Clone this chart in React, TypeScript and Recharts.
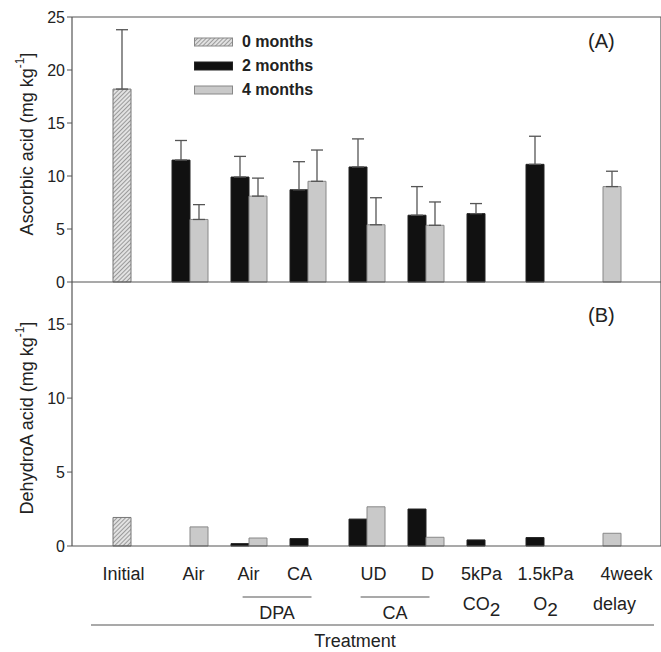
import React from 'react';
import { BarChart, Bar, Cell, XAxis, YAxis, ErrorBar, ReferenceLine } from 'recharts';

const categories = ['Initial', 'Air', 'Air', 'CA', 'UD', 'D', '5kPa', '1.5kPa', '4week'];
const secondLine = ['', '', '', '', '', '', 'CO2', 'O2', 'delay'];
const groupSpans = [
  { label: 'DPA', from: 2, to: 3 },
  { label: 'CA', from: 4, to: 5 },
];

// (A) ascorbic acid, mg/kg
const asc0 = [18.2, null, null, null, null, null, null, null, null];
const asc2 = [null, 11.5, 9.9, 8.7, 10.85, 6.3, 6.45, 11.1, null];
const asc4 = [null, 5.9, 8.1, 9.5, 5.4, 5.35, null, null, 9.0];
const ascErr0 = [5.6, null, null, null, null, null, null, null, null];
const ascErr2 = [null, 1.85, 1.95, 2.65, 2.65, 2.7, 0.95, 2.65, null];
const ascErr4 = [null, 1.4, 1.7, 2.95, 2.55, 2.2, null, null, 1.45];

// (B) dehydroascorbic acid, mg/kg
const dha0 = [1.93, null, null, null, null, null, null, null, null];
const dha2 = [null, null, 0.16, 0.5, 1.82, 2.5, 0.41, 0.57, null];
const dha4 = [null, 1.29, 0.54, null, 2.65, 0.59, null, null, 0.86];

const ascTicks = [0, 5, 10, 15, 20, 25];
const dhaTicks = [0, 5, 10, 15];

const FONT = 'Liberation Sans, Arial, Helvetica, sans-serif';
const AXIS = '#555';
const BLACK = '#111';
const GREY = '#c9c9c9';

const buildRows = (m0: any[], m2: any[], m4: any[], e0?: any[], e2?: any[], e4?: any[]) =>
  categories.map((name, i) => {
    const initial = m0[i] != null;
    const leftErr = initial ? e0?.[i] : e2?.[i];
    const rightErr = e4?.[i];
    return {
      name,
      left: initial ? m0[i] : m2[i],
      right: m4[i],
      initial,
      leftErr: leftErr != null ? [0, leftErr] : null,
      rightErr: rightErr != null ? [0, rightErr] : null,
    };
  });

const ascRows = buildRows(asc0, asc2, asc4, ascErr0, ascErr2, ascErr4);
const dhaRows = buildRows(dha0, dha2, dha4);

// layout
const PLOT_LEFT = 72;
const PLOT_RIGHT = 660;
const PAD = 29;
const BAND = (PLOT_RIGHT - PLOT_LEFT - 2 * PAD) / categories.length;
const labelShift = [-7, 4, 0, -8, 7, 2, -3, 2, 24];
const secondShift = [0, 0, 0, 0, 0, 0, -3, 2, 12];

function Hatch({ id }: { id: string }) {
  return (
    <defs>
      <pattern id={id} patternUnits="userSpaceOnUse" width="3" height="3" patternTransform="rotate(45)">
        <rect width="3" height="3" fill="#e2e2e2" />
        <line x1="0" y1="0" x2="0" y2="3" stroke="#6a6a6a" strokeWidth="1.2" />
      </pattern>
    </defs>
  );
}

function YTitle({ text, cy }: { text: string; cy: number }) {
  return (
    <text
      x={27}
      y={cy}
      transform={`rotate(-90, 27, ${cy})`}
      textAnchor="middle"
      dominantBaseline="central"
      fontFamily={FONT}
      fontSize={18}
      fill="#222"
    >
      {text} (mg kg
      <tspan dy={-7} fontSize={12}>-1</tspan>
      <tspan dy={7}>]</tspan>
    </text>
  );
}

function SubText({ x, y, label }: { x: number; y: number; label: string }) {
  const m = label.match(/^(.*?[A-Za-z])(\d)$/);
  if (!m) {
    return (
      <text x={x} y={y} textAnchor="middle" fontFamily={FONT} fontSize={18} fill="#222">
        {label}
      </text>
    );
  }
  return (
    <text x={x} y={y} textAnchor="middle" fontFamily={FONT} fontSize={18} fill="#222">
      {m[1]}
      <tspan dy={6} fontSize={19}>{m[2]}</tspan>
    </text>
  );
}

function TreatmentTick(props: any) {
  const { x, y, payload } = props;
  const i = payload.index;
  const group = groupSpans.find((g) => g.to === i);
  return (
    <g>
      <text x={x + labelShift[i]} y={y + 32} textAnchor="middle" fontFamily={FONT} fontSize={18} fill="#222">
        {categories[i]}
      </text>
      {secondLine[i] && <SubText x={x + secondShift[i]} y={y + 62} label={secondLine[i]} />}
      {group && (
        <g>
          <line
            x1={x - BAND * (group.to - group.from) - 6}
            x2={x + 4}
            y1={y + 49}
            y2={y + 49}
            stroke={AXIS}
            strokeWidth={1.2}
          />
          <text
            x={x - (BAND * (group.to - group.from)) / 2 - 1}
            y={y + 71}
            textAnchor="middle"
            fontFamily={FONT}
            fontSize={18}
            fill="#222"
          >
            {group.label}
          </text>
        </g>
      )}
    </g>
  );
}

function TreatmentLabel(props: any) {
  const vb = props.viewBox || { x: PLOT_LEFT, y: 264, width: PLOT_RIGHT - PLOT_LEFT };
  return (
    <g>
      <line x1={vb.x + 19} x2={vb.x + vb.width - 7} y1={vb.y + 79} y2={vb.y + 79} stroke={AXIS} strokeWidth={1.2} />
      <text
        x={vb.x + 283}
        y={vb.y + 101}
        textAnchor="middle"
        fontFamily={FONT}
        fontSize={18}
        fill="#222"
      >
        Treatment
      </text>
    </g>
  );
}

const blankTick = () => <g />;

function Panel({
  rows,
  max,
  ticks,
  height,
  margin,
  hatchId,
  title,
  titleCy,
  bottom,
}: {
  rows: any[];
  max: number;
  ticks: number[];
  height: number;
  margin: any;
  hatchId: string;
  title: string;
  titleCy: number;
  bottom?: boolean;
}) {
  return (
    <BarChart width={661} height={height} data={rows} margin={margin} barSize={18} barGap={0}>
      <Hatch id={hatchId} />
      {bottom ? (
        <XAxis
          dataKey="name"
          height={106}
          padding={{ left: PAD, right: PAD }}
          axisLine={{ stroke: AXIS, strokeWidth: 1.2 }}
          tickLine={false}
          tickSize={0}
          interval={0}
          tick={<TreatmentTick />}
          label={<TreatmentLabel />}
        />
      ) : (
        <XAxis dataKey="name" hide padding={{ left: PAD, right: PAD }} />
      )}
      <YAxis
        domain={[0, max]}
        ticks={ticks}
        interval={0}
        width={PLOT_LEFT}
        tickSize={5}
        axisLine={{ stroke: AXIS, strokeWidth: 1.2 }}
        tickLine={{ stroke: AXIS }}
        tick={{ fontSize: 16, fill: '#222', fontFamily: FONT }}
        label={<YTitle text={title} cy={titleCy} />}
      />
      <YAxis
        yAxisId="r"
        orientation="right"
        domain={[0, max]}
        ticks={ticks}
        interval={0}
        width={1}
        mirror
        tickSize={4}
        axisLine={{ stroke: AXIS, strokeWidth: 1.2 }}
        tickLine={{ stroke: AXIS }}
        tick={blankTick}
      />
      {!bottom && <ReferenceLine y={max} stroke={AXIS} strokeWidth={1.2} />}
      {!bottom && <ReferenceLine y={0} stroke={AXIS} strokeWidth={1.2} />}
      <Bar dataKey="left" stroke="#222" strokeWidth={1} isAnimationActive={false}>
        {rows.map((r, i) => (
          <Cell key={i} fill={r.initial ? `url(#${hatchId})` : BLACK} stroke={r.initial ? '#777' : '#222'} />
        ))}
        {!bottom && <ErrorBar dataKey="leftErr" direction="y" width={6} stroke="#555" strokeWidth={1.3} />}
      </Bar>
      <Bar dataKey="right" fill={GREY} stroke="#888" strokeWidth={1} isAnimationActive={false}>
        {!bottom && <ErrorBar dataKey="rightErr" direction="y" width={6} stroke="#555" strokeWidth={1.3} />}
      </Bar>
    </BarChart>
  );
}

const legendItems = [
  { label: '0 months', kind: 'hatch' },
  { label: '2 months', kind: 'black' },
  { label: '4 months', kind: 'grey' },
];

function LegendBox() {
  return (
    <div style={{ position: 'absolute', left: 194, top: 30 }}>
      {legendItems.map((it) => (
        <div key={it.label} style={{ display: 'flex', alignItems: 'center', height: 24 }}>
          <svg width={40} height={10} style={{ marginRight: 8 }}>
            <Hatch id="hatchLegend" />
            <rect
              x={0.5}
              y={1}
              width={38}
              height={8}
              fill={it.kind === 'hatch' ? 'url(#hatchLegend)' : it.kind === 'black' ? BLACK : GREY}
              stroke={it.kind === 'black' ? '#222' : '#888'}
            />
          </svg>
          <span style={{ fontFamily: FONT, fontWeight: 'bold', fontSize: 16, color: '#222' }}>{it.label}</span>
        </div>
      ))}
    </div>
  );
}

export default function App() {
  return (
    <div style={{ position: 'absolute', left: 0, top: 0, width: 661, height: 652, background: '#fff' }}>
      <div style={{ position: 'absolute', left: 0, top: 0 }}>
        <Panel
          rows={ascRows}
          max={25}
          ticks={ascTicks}
          height={290}
          margin={{ top: 17, right: 0, bottom: 8, left: 0 }}
          hatchId="hatchA"
          title="Ascorbic acid"
          titleCy={144}
        />
      </div>
      <div style={{ position: 'absolute', left: 0, top: 282 }}>
        <Panel
          rows={dhaRows}
          max={17.85}
          ticks={dhaTicks}
          height={370}
          margin={{ top: 0, right: 0, bottom: 0, left: 0 }}
          hatchId="hatchB"
          title="DehydroA acid"
          titleCy={136}
          bottom
        />
      </div>
      <LegendBox />
      <div style={{ position: 'absolute', left: 588, top: 30, fontFamily: FONT, fontSize: 20, color: '#222' }}>(A)</div>
      <div style={{ position: 'absolute', left: 588, top: 304, fontFamily: FONT, fontSize: 20, color: '#222' }}>(B)</div>
    </div>
  );
}
